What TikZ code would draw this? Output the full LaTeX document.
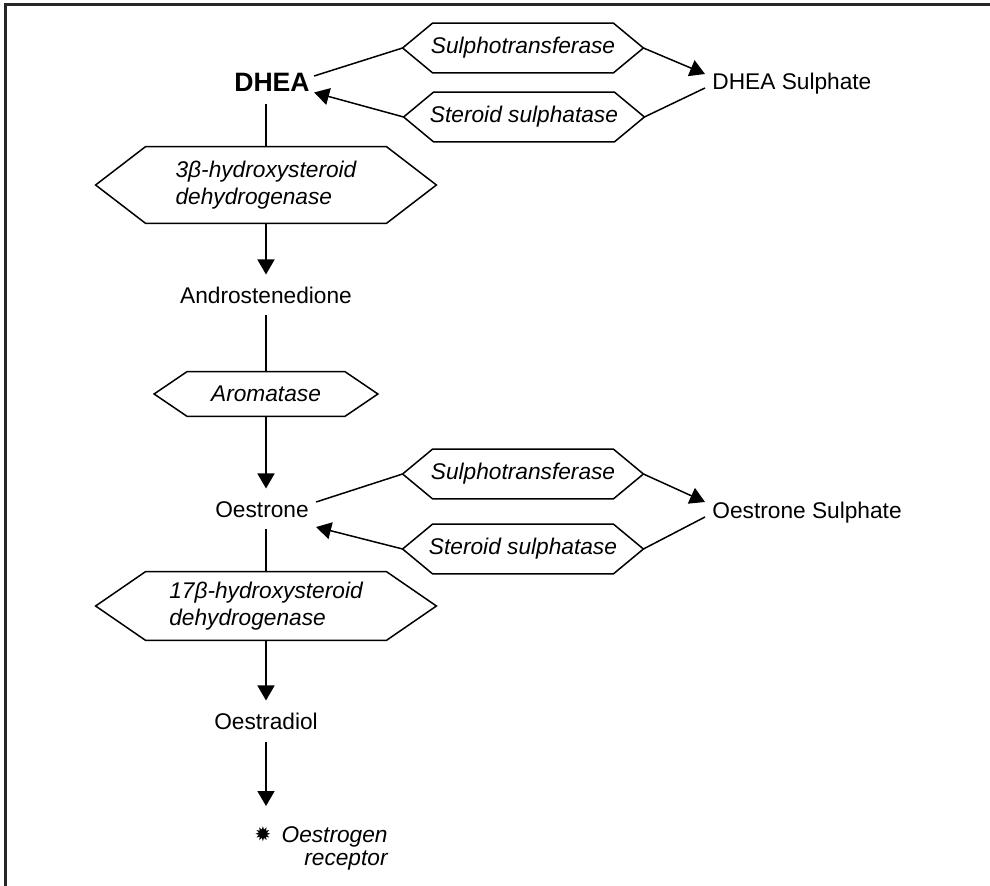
\documentclass[tikz,border=0pt]{standalone}
\usepackage{fontspec}
\setmainfont{Liberation Sans}
\newfontfamily\symbfont{DejaVu Sans}
\usetikzlibrary{arrows.meta}
\tikzset{
  compound/.style={font=\fontsize{11.35}{13.6}\selectfont, inner xsep=3.5pt, inner ysep=6pt, text height=8.1pt, text depth=0pt},
  enzyme/.style={font=\fontsize{11.35}{13.4}\selectfont\itshape, align=left, inner sep=0pt, minimum width=120pt, minimum height=24.5pt},
  link/.style={line width=0.75pt},
  arr/.style={link, -{Triangle[length=7.5pt,width=8.5pt]}}
}
\begin{document}
\begin{tikzpicture}[x=0.5pt,y=-0.5pt]
\useasboundingbox (0,0) rectangle (990,886);
\draw[line width=1.5pt, black!85] (5,886) -- (5,4.5) -- (990,4.5);

\node[compound, font=\fontsize{13.3}{16}\selectfont\bfseries, text height=9.5pt, inner xsep=2pt] (DHEA) at (272,82.5) {DHEA};
\node[compound, anchor=west] (DHEAS) at (705,81) {DHEA Sulphate};
\node[compound] (Andro) at (266,295) {Androstenedione};
\node[compound] (Oestrone) at (262,509) {Oestrone};
\node[compound, anchor=west] (OestroneS) at (705,510) {Oestrone Sulphate};
\node[compound] (Oestradiol) at (266,721) {Oestradiol};
\node[font=\symbfont\fontsize{10}{10}\selectfont, inner sep=0pt] (star) at (263,834) {✹};
\node[font=\fontsize{11.35}{11.5}\selectfont\itshape, align=right, anchor=north east, inner sep=0pt] (receptor) at (388,826) {Oestrogen\\receptor};

\node[enzyme] (st1) at (523,48) {Sulphotransferase};
\node[enzyme] (ss1) at (524,117) {Steroid sulphatase};
\node[enzyme, minimum width=170pt, minimum height=38pt] (hsd3) at (266,185) {3β-hydroxysteroid\\dehydrogenase};
\node[enzyme, minimum width=111.5pt, minimum height=22pt] (arom) at (266,394) {Aromatase};
\node[enzyme] (st2) at (523,474) {Sulphotransferase};
\node[enzyme] (ss2) at (523,549) {Steroid sulphatase};
\node[enzyme, minimum width=170pt, minimum height=34pt] (hsd17) at (266,606) {17β-hydroxysteroid\\dehydrogenase};

\draw[link] \foreach \n/\d in {st1/15pt, ss1/15pt, hsd3/25pt, arom/16.5pt, st2/15pt, ss2/15pt, hsd17/25pt}
{
	(\n.west) -- ([xshift=\d]\n.north west) -- ([xshift=-\d]\n.north east) -- (\n.east) -- ([xshift=-\d]\n.south east) -- ([xshift=\d]\n.south west) -- cycle
};

\draw[link] ([yshift=3.25pt]DHEA.east) -- (st1.west);
\draw[arr] (st1.east) -- ([yshift=3.5pt]DHEAS.west);
\draw[link] ([yshift=-3.5pt]DHEAS.west) -- (ss1.east);
\draw[arr] (ss1.west) -- ([yshift=-5pt]DHEA.east);

\draw[link] (hsd3 |- DHEA.south) -- (hsd3.north);
\draw[arr] (hsd3.south) -- (Andro.north);
\draw[link] (Andro.south) -- (arom.north);
\draw[arr] (arom.south) -- (arom |- Oestrone.north);

\draw[link] ([yshift=3.5pt]Oestrone.east) -- (st2.west);
\draw[arr] (st2.east) -- ([yshift=4pt]OestroneS.west);
\draw[link] ([yshift=-3.5pt]OestroneS.west) -- (ss2.east);
\draw[arr] (ss2.west) -- ([yshift=-9pt]Oestrone.east);

\draw[link] (hsd17 |- Oestrone.south) -- (hsd17.north);
\draw[arr] (hsd17.south) -- (Oestradiol.north);
\draw[arr, shorten >=10pt] (Oestradiol.south) -- (Oestradiol.south |- star.north);

\end{tikzpicture}
\end{document}
